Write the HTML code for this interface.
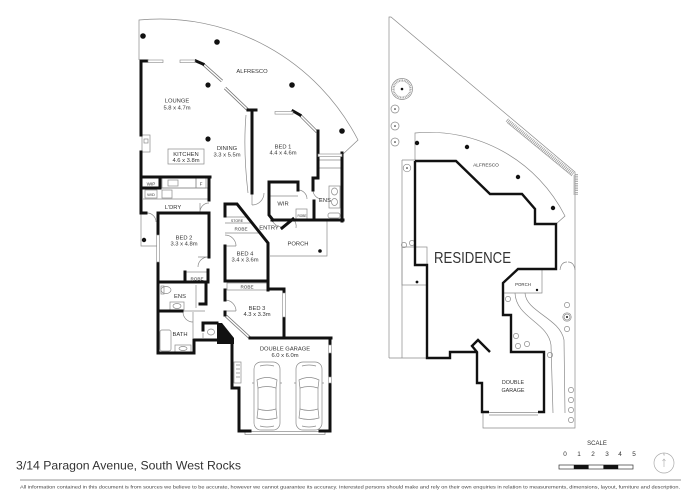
<!DOCTYPE html>
<html><head><meta charset="utf-8">
<style>
html,body{margin:0;padding:0;background:#fff;}
svg{display:block;}
text{font-family:"Liberation Sans",sans-serif;fill:#333;}
.t{stroke:#8a8a8a;stroke-width:0.7;fill:none;}
.w{stroke:#111;stroke-width:3;fill:none;stroke-linejoin:miter;stroke-linecap:square;}
.wn{fill:#fff;stroke:#888;stroke-width:0.6;}
.l{font-size:5.8px;text-anchor:middle;}
.s{font-size:4.6px;text-anchor:middle;}
</style></head><body>
<svg width="700" height="495" viewBox="0 0 700 495" xmlns="http://www.w3.org/2000/svg">
<rect width="700" height="495" fill="#fff"/>

<!-- ================= LEFT FLOOR PLAN ================= -->
<g class="t">
  <path d="M139,60 V20 A222.6,222.6 0 0 1 358,140 L342,155"/>
  <path d="M246,115 Q243,150 248,193"/>
  <rect x="168" y="149" width="36" height="15"/>
  <rect x="142" y="135" width="8" height="17"/>
  <rect x="144" y="139" width="4" height="4"/>
  <rect x="162" y="178" width="34" height="10"/>
  <rect x="168" y="180" width="10" height="6"/>
  <rect x="196" y="178" width="10" height="10"/>
  <path d="M160,188 H209"/>
  <rect x="145" y="190" width="12" height="8"/>
  <rect x="162" y="190" width="10" height="8"/>
  <path d="M143,199 H209"/>
  <path d="M209,203 A9,9 0 0 0 200,212 M200,203 V212"/>
  <path d="M141,213 V246 H158"/>
  <path d="M147,213 A9,9 0 0 1 156,222"/>
  <path d="M208,257 A10,10 0 0 0 198,267 M198,257 H208"/>
  <rect x="185" y="272" width="23" height="10"/>
  <ellipse cx="166" cy="290" rx="5" ry="3.5"/>
  <rect x="161" y="286" width="3" height="8"/>
  <rect x="170" y="302" width="14" height="8"/>
  <ellipse cx="177" cy="306" rx="4" ry="2.5"/>
  <path d="M196,285 V308"/>
  <path d="M182,311 H205 M193,312 V338"/>
  <rect x="160" y="330" width="11" height="21" rx="2"/>
  <rect x="175" y="345" width="16" height="7"/>
  <ellipse cx="183" cy="348.5" rx="4" ry="2"/>
  <path d="M183,312 A10,10 0 0 0 193,322"/>
  <ellipse cx="211" cy="332" rx="3.5" ry="3"/>
  <path d="M203,333 V338"/>
  <path d="M225,235 A11,11 0 0 1 236,246 M225,246 H236"/>
  <path d="M225,217 H247 M225,223 H252 M225,233 H260"/>
  <rect x="227" y="283" width="40" height="7"/>
  <path d="M225,300 A11,11 0 0 1 236,311 M225,311 H236"/>
  <path d="M252,205 A12,12 0 0 0 264,193 M252,193 V205"/>
  <path d="M269,196 H298 M298,190 A9,9 0 0 1 307,199"/>
  <rect x="296" y="209" width="11" height="11"/>
  <path d="M313,190 A9,9 0 0 0 322,199"/>
  <rect x="329" y="186" width="11" height="22"/>
  <ellipse cx="334.5" cy="191.5" rx="3" ry="3.5"/>
  <ellipse cx="334.5" cy="202" rx="3" ry="3.5"/>
  <rect x="328" y="213" width="12" height="5" rx="2"/>
  <path d="M319,160 H341 M319,168 H341"/>
  <path d="M282,227 A11,11 0 0 1 272,220 M293,219 A10,10 0 0 1 296,228"/>
  <path d="M327,220 V256 H270"/>
  <rect x="234" y="362" width="7" height="21"/>
  <path d="M236,365 H240 M236,369 H240 M236,373 H240 M236,377 H240"/>
  <rect x="245" y="431.5" width="80" height="3"/>
</g>

<g fill="none">
  <path d="M203,64 L222,81 M225,88 L248,110 M300,115 L317,132 M226,316 L250,338" stroke="#777" stroke-width="3"/>
  <path d="M203,64 L222,81 M225,88 L248,110 M300,115 L317,132 M226,316 L250,338" stroke="#fff" stroke-width="1.5"/>
</g>

<g class="w">
  <path d="M141,61 V135 M141,152 V213"/>
  <path d="M141,61 H147 M196,61 L203,64"/>
  <path d="M248,110 H256 M252,110 V193"/>
  <path d="M293,111 L300,115 M318,131 V155"/>
  <path d="M342,153 V221 M272,220 H343"/>
  <path d="M298,190 V182 H269 V215 L273,220"/>
  <path d="M318,155 V178 H313 V190 M314,201 V220"/>
  <path d="M282,228 L293,219"/>
  <path d="M141,177 H210 M160,177 V188 M141,188 H160 M209,177 V200"/>
  <path d="M141,213 H146 M158,213 H209 V257 M208,270 V282"/>
  <path d="M158,213 V235 M158,262 V353 H194 V340 H217"/>
  <path d="M158,282 H208 M185,272 V282"/>
  <path d="M158,311 H182 M206,282 V304 H200"/>
  <path d="M203,323 H217 M203,323 V330"/>
  <path d="M225,204 H237 L268,243 V290 M225,204 V216 M225,246 V281 H268"/>
  <path d="M225,290 V300 M225,312 V315"/>
  <path d="M268,289 H284 V293 M284,317 V338 M250,338 H331"/>
  <path d="M330,338 V345 M330,353 V377 M330,383 V431 H320 M250,431 H239 V388 H232 V342"/>
</g>
<polygon points="217,323 222,323 234,338 234,344 217,344" fill="#111"/>

<g class="wn">
  <rect x="148" y="60" width="15" height="2.6"/>
  <rect x="180" y="60" width="15" height="2.6"/>
  <rect x="275" y="111.5" width="18" height="2.6"/>
  <rect x="318" y="154" width="24" height="2.6"/>
  <rect x="156.7" y="235" width="2.6" height="27"/>
  <rect x="282.7" y="293" width="2.6" height="24"/>
  <rect x="328.7" y="345" width="2.6" height="8"/>
  <rect x="328.7" y="377" width="2.6" height="6"/>
</g>

<g fill="#111">
  <circle cx="143" cy="36" r="2.8"/>
  <circle cx="217" cy="42" r="2.8"/>
  <circle cx="208" cy="85" r="2.6"/>
  <circle cx="292" cy="85" r="2.8"/>
  <circle cx="342" cy="131" r="2.8"/>
  <circle cx="208" cy="139" r="2.6"/>
  <circle cx="144" cy="240" r="2.2"/>
  <circle cx="320" cy="251" r="1.8"/>
</g>

<g class="t" stroke="#777">
  <g transform="translate(254,362)">
    <rect x="0" y="0" width="26" height="68" rx="7"/>
    <path d="M3,18 Q13,13 23,18 L22,26 Q13,23 4,26 Z"/>
    <path d="M4,26 V47 M22,26 V47"/>
    <path d="M4,47 Q13,50 22,47 L23,56 Q13,59 3,56 Z"/>
    <path d="M0,21 H-2 M26,21 H28 M6,4 Q13,2 20,4 M6,64 Q13,66 20,64"/>
  </g>
  <g transform="translate(296,362)">
    <rect x="0" y="0" width="26" height="68" rx="7"/>
    <path d="M3,18 Q13,13 23,18 L22,26 Q13,23 4,26 Z"/>
    <path d="M4,26 V47 M22,26 V47"/>
    <path d="M4,47 Q13,50 22,47 L23,56 Q13,59 3,56 Z"/>
    <path d="M0,21 H-2 M26,21 H28 M6,4 Q13,2 20,4 M6,64 Q13,66 20,64"/>
  </g>
</g>

<text class="l" x="252" y="73">ALFRESCO</text>
<text class="l" x="177" y="102.5">LOUNGE</text>
<text class="l" x="177" y="109.5">5.8 x 4.7m</text>
<text class="l" x="186" y="156">KITCHEN</text>
<text class="l" x="186" y="162">4.6 x 3.8m</text>
<text class="l" x="227" y="150">DINING</text>
<text class="l" x="227" y="156.5">3.3 x 5.5m</text>
<text class="l" x="283" y="148.5">BED 1</text>
<text class="l" x="283" y="154.5">4.4 x 4.6m</text>
<text class="s" x="151" y="185.5">WIP</text>
<text class="s" x="201" y="185.5">F</text>
<text class="s" x="151" y="196" style="font-size:4px">W/D</text>
<text class="l" x="173" y="209">L'DRY</text>
<text class="l" x="184" y="239.5">BED 2</text>
<text class="l" x="184" y="245.5">3.3 x 4.8m</text>
<text class="s" x="197" y="280.5">ROBE</text>
<text class="l" x="180" y="298">ENS</text>
<text class="l" x="180" y="336">BATH</text>
<text class="s" x="237" y="222" style="font-size:3.6px">STORE</text>
<text class="s" x="241" y="230.5">ROBE</text>
<text class="l" x="269" y="229.5">ENTRY</text>
<text class="l" x="298" y="245.5">PORCH</text>
<text class="l" x="245" y="255.5">BED 4</text>
<text class="l" x="245" y="261.5">3.4 x 3.6m</text>
<text class="s" x="247" y="288.7">ROBE</text>
<text class="l" x="257" y="310">BED 3</text>
<text class="l" x="257" y="316.2">4.3 x 3.3m</text>
<text class="l" x="285" y="350.5">DOUBLE GARAGE</text>
<text class="l" x="285" y="356.8">6.0 x 6.0m</text>
<text class="l" x="283" y="205.5">WIR</text>
<text class="l" x="325" y="202">ENS</text>
<text class="s" x="302" y="217" style="font-size:3.2px">ROBE</text>

<!-- ================= RIGHT SITE PLAN ================= -->
<g class="t">
  <path d="M389,358 V17 H391 L575,172 V428 H483 V412"/>
  <path d="M389,358 H427"/>
  <path d="M402,160 H415 M402,160 V358"/>
  <rect x="402" y="247" width="25" height="38"/>
  <path d="M415,161 V133 A152,152 0 0 1 565,216 L556,224"/>
  <path d="M518,269 H542 V293 H503"/>
  <path d="M515,293 C516,318 548,322 551,345 L553,413"/>
  <path d="M525,293 C526,312 560,318 564,340 L565,413"/>
  <path d="M489,412.5 H538 M489,415 H538"/>
  <path d="M560,270 Q561,262 567,262 M575,270 Q574,262 568,262"/>
  <circle cx="402" cy="89" r="10.5"/>
  <circle cx="395" cy="109" r="4"/>
  <circle cx="395" cy="126" r="4"/>
  <circle cx="395" cy="142" r="4"/>
  <circle cx="407" cy="168" r="3.8"/>
  <circle cx="404" cy="245" r="2.6"/>
  <circle cx="412" cy="243" r="2.6"/>
  <circle cx="508" cy="299" r="2.6"/>
  <circle cx="567" cy="305" r="2.6"/>
  <circle cx="567" cy="317" r="4.2"/>
  <circle cx="567" cy="317" r="3"/>
  <circle cx="567" cy="329" r="2.6"/>
  <circle cx="516" cy="336" r="2.6"/>
  <circle cx="518" cy="346" r="2.6"/>
  <circle cx="527" cy="344" r="2.6"/>
  <circle cx="550" cy="355" r="2.6"/>
  <circle cx="571" cy="390" r="2.6"/>
  <circle cx="571" cy="400" r="2.6"/>
  <circle cx="571" cy="410" r="2.6"/>
  <circle cx="571" cy="420" r="2.6"/>
</g>
<circle cx="402" cy="89" r="8.5" fill="none" stroke="#999" stroke-width="2.2" stroke-dasharray="0.8 0.8"/>
<path d="M507,120 L573,174" stroke="#999" stroke-width="4" stroke-dasharray="0.8 1" fill="none"/>
<path d="M507,122.5 L572,176 M574,175 V195" stroke="#999" stroke-width="0.6" fill="none"/>
<path d="M576.5,174 V195" stroke="#999" stroke-width="3" stroke-dasharray="0.8 1" fill="none"/>

<g fill="#111">
  <circle cx="402" cy="89" r="1.3"/>
  <circle cx="395" cy="109" r="0.8"/>
  <circle cx="395" cy="126" r="0.8"/>
  <circle cx="395" cy="142" r="0.8"/>
  <circle cx="407" cy="168" r="0.8"/>
  <circle cx="417" cy="143" r="2.2"/>
  <circle cx="467" cy="147" r="2.2"/>
  <circle cx="518" cy="177" r="2.2"/>
  <circle cx="553" cy="208" r="2.2"/>
  <circle cx="417" cy="282" r="1.4"/>
  <circle cx="537" cy="290" r="1.2"/>
  <circle cx="567" cy="317" r="1"/>
</g>

<path d="M415,161 H456 L490,194 H522 L535,209 V224 H556 V269 H518 L503,283 V315 H511 V352 H544 V412 H538 M489,412 H482 V383 H477 V352 L472,346 L478,340 L490,352 M477,352 H450 V358 H427 V265 H415 V161" fill="none" stroke="#111" stroke-width="2.4" stroke-linejoin="miter"/>

<text x="486" y="166.5" style="font-size:4.8px" text-anchor="middle">ALFRESCO</text>
<text x="434" y="263" style="font-size:15.5px" textLength="77" lengthAdjust="spacingAndGlyphs">RESIDENCE</text>
<text x="523" y="286" style="font-size:4.4px" text-anchor="middle">PORCH</text>
<text x="513" y="384" style="font-size:5.4px" text-anchor="middle">DOUBLE</text>
<text x="513" y="392" style="font-size:5.4px" text-anchor="middle">GARAGE</text>

<!-- ================= SCALE / NORTH ================= -->
<text x="597" y="445" style="font-size:6px" text-anchor="middle">SCALE</text>
<g style="font-size:6.4px" text-anchor="middle">
  <text x="565" y="456">0</text>
  <text x="579" y="456">1</text>
  <text x="593" y="456">2</text>
  <text x="607" y="456">3</text>
  <text x="620" y="456">4</text>
  <text x="634" y="456">5</text>
</g>
<rect x="559" y="465" width="74" height="4" fill="#fff" stroke="#333" stroke-width="0.7"/>
<rect x="573.8" y="465" width="14.8" height="4" fill="#111"/>
<rect x="603.4" y="465" width="14.8" height="4" fill="#111"/>
<circle cx="664" cy="463" r="10" fill="none" stroke="#aaa" stroke-width="0.7"/>
<path d="M664,459 V467 M662.5,461 L664,459 L665.5,461" stroke="#aaa" stroke-width="0.6" fill="none"/>
<text x="664" y="455.5" style="font-size:3px;fill:#999" text-anchor="middle">N</text>

<!-- ================= FOOTER ================= -->
<text x="16" y="469.5" style="font-size:12px" textLength="225" lengthAdjust="spacingAndGlyphs">3/14 Paragon Avenue, South West Rocks</text>
<line x1="20" y1="480" x2="681" y2="480" stroke="#aaa" stroke-width="1.2"/>
<text x="20" y="488.5" style="font-size:4.9px;fill:#444" textLength="660" lengthAdjust="spacingAndGlyphs">All information contained in this document is from sources we believe to be accurate, however we cannot guarantee its accuracy. Interested persons should make and rely on their own enquiries in relation to measurements, dimensions, layout, furniture and description.</text>
</svg>
</body></html>
